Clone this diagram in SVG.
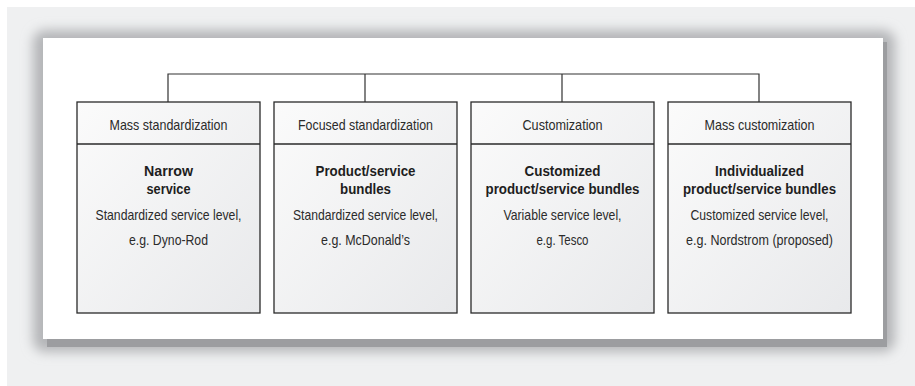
<svg xmlns="http://www.w3.org/2000/svg" width="915" height="386" viewBox="0 0 915 386">
<defs>
<linearGradient id="boxg" x1="0" y1="0" x2="1" y2="1">
<stop offset="0" stop-color="#fbfbfb"/>
<stop offset="1" stop-color="#e8e9eb"/>
</linearGradient>
<filter id="sh" x="-10%" y="-10%" width="120%" height="130%">
<feGaussianBlur stdDeviation="6"/>
</filter>
<style>
.box{fill:url(#boxg);stroke:#2a2a2a;stroke-width:1.3}
.hd{fill:none;stroke:#2a2a2a;stroke-width:1.3}
text{font-family:"Liberation Sans",Arial,sans-serif;font-size:14.5px;text-anchor:middle}
.t{fill:#2b2b2b}
.b{font-weight:bold;fill:#1e1e1e}
.c{fill:none;stroke:#333;stroke-width:1.2}
</style>
</defs>
<rect x="0" y="0" width="915" height="386" fill="#ffffff"/>
<rect x="7" y="7" width="908" height="379" fill="#eff0f1"/>
<rect x="33" y="30" width="862" height="322" rx="12" fill="#b4b5b8" filter="url(#sh)"/>
<rect x="47" y="42" width="840" height="305" fill="#9c9da0"/>
<rect x="43" y="38" width="840" height="301" fill="#ffffff"/>
<g id="connectors">
<path class="c" d="M168 102V74H759V102M365 74V102M562 74V102"/>
</g>
<g id="n1">
<rect class="box" x="77" y="102" width="183" height="211"/>
<line class="hd" x1="77" y1="144" x2="260" y2="144"/>
<text class="t" x="168.5" y="130" textLength="118" lengthAdjust="spacingAndGlyphs">Mass standardization</text>
<text class="b" x="168.5" y="176" textLength="49" lengthAdjust="spacingAndGlyphs">Narrow</text>
<text class="b" x="168.5" y="194" textLength="44" lengthAdjust="spacingAndGlyphs">service</text>
<text class="t" x="168.5" y="220" textLength="146" lengthAdjust="spacingAndGlyphs">Standardized service level,</text>
<text class="t" x="168.5" y="245" textLength="79" lengthAdjust="spacingAndGlyphs">e.g. Dyno-Rod</text>
</g>
<g id="n2">
<rect class="box" x="274" y="102" width="183" height="211"/>
<line class="hd" x1="274" y1="144" x2="457" y2="144"/>
<text class="t" x="365.5" y="130" textLength="135" lengthAdjust="spacingAndGlyphs">Focused standardization</text>
<text class="b" x="365.5" y="176" textLength="100" lengthAdjust="spacingAndGlyphs">Product/service</text>
<text class="b" x="365.5" y="194" textLength="51" lengthAdjust="spacingAndGlyphs">bundles</text>
<text class="t" x="365.5" y="220" textLength="145" lengthAdjust="spacingAndGlyphs">Standardized service level,</text>
<text class="t" x="365.5" y="245" textLength="89" lengthAdjust="spacingAndGlyphs">e.g. McDonald’s</text>
</g>
<g id="n3">
<rect class="box" x="471" y="102" width="183" height="211"/>
<line class="hd" x1="471" y1="144" x2="654" y2="144"/>
<text class="t" x="562.5" y="130" textLength="80" lengthAdjust="spacingAndGlyphs">Customization</text>
<text class="b" x="562.5" y="176" textLength="76" lengthAdjust="spacingAndGlyphs">Customized</text>
<text class="b" x="562.5" y="194" textLength="154" lengthAdjust="spacingAndGlyphs">product/service bundles</text>
<text class="t" x="562.5" y="220" textLength="118" lengthAdjust="spacingAndGlyphs">Variable service level,</text>
<text class="t" x="562.5" y="245" textLength="52" lengthAdjust="spacingAndGlyphs">e.g. Tesco</text>
</g>
<g id="n4">
<rect class="box" x="668" y="102" width="183" height="211"/>
<line class="hd" x1="668" y1="144" x2="851" y2="144"/>
<text class="t" x="759.5" y="130" textLength="110" lengthAdjust="spacingAndGlyphs">Mass customization</text>
<text class="b" x="759.5" y="176" textLength="89" lengthAdjust="spacingAndGlyphs">Individualized</text>
<text class="b" x="759.5" y="194" textLength="153" lengthAdjust="spacingAndGlyphs">product/service bundles</text>
<text class="t" x="759.5" y="220" textLength="138" lengthAdjust="spacingAndGlyphs">Customized service level,</text>
<text class="t" x="759.5" y="245" textLength="147" lengthAdjust="spacingAndGlyphs">e.g. Nordstrom (proposed)</text>
</g>
</svg>
